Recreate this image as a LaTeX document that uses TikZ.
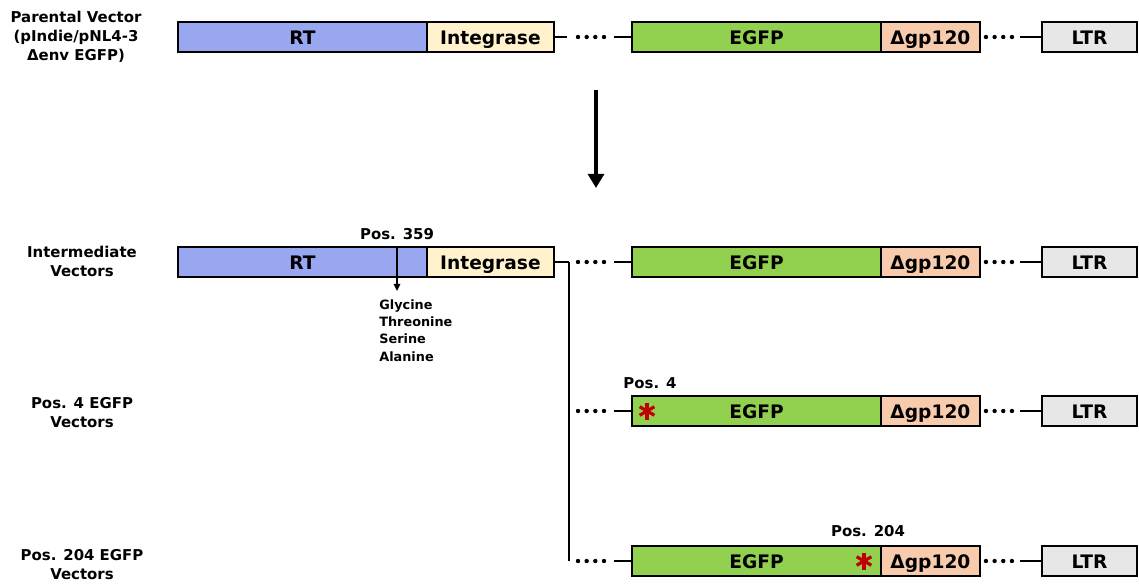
\documentclass[tikz,border=0pt]{standalone}
\usepackage{fontspec}
\setmainfont{DejaVu Sans}
\usetikzlibrary{positioning,arrows.meta,calc}

\definecolor{rtblue}{HTML}{99A6F0}
\definecolor{intyellow}{HTML}{FFF2CC}
\definecolor{egfpgreen}{HTML}{92D050}
\definecolor{gppeach}{HTML}{F8CBAD}
\definecolor{ltrgrey}{HTML}{E7E7E7}
\definecolor{mutred}{HTML}{C00000}

\tikzset{
  seg/.style={draw, line width=0.8pt, minimum height=0.6cm, outer sep=0pt, inner sep=0pt,
    text height=1.75ex, text depth=0.25ex,
    font=\fontsize{10.6}{12}\selectfont\bfseries},
  rtseg/.style={seg, fill=rtblue, minimum width=4.98cm},
  intseg/.style={seg, fill=intyellow, minimum width=2.54cm},
  egfpseg/.style={seg, fill=egfpgreen, minimum width=4.98cm},
  gpseg/.style={seg, fill=gppeach, minimum width=1.98cm},
  ltrseg/.style={seg, fill=ltrgrey, minimum width=1.9cm},
  link/.style={line width=1.4pt},
  dots/.style={line width=2.5pt, line cap=round, dash pattern=on 0pt off 4.93pt},
  rowlabel/.style={align=center, font=\fontsize{8.5}{10.8}\selectfont\bfseries},
  poslabel/.style={inner sep=1pt, font=\fontsize{8.5}{10}\selectfont\bfseries},
  mut/.style={minimum size=0.34cm, inner sep=0pt,
    path picture={
      \foreach \a in {90,30,150}
        \draw[mutred, line width=1.8pt]
          ($(path picture bounding box.center)+(\a:0.17cm)$) --
          ($(path picture bounding box.center)+(\a+180:0.17cm)$);
    }}
}

\begin{document}
\begin{tikzpicture}[x=0.02cm,y=-0.02cm]
\useasboundingbox (0,0) rectangle (1139,585);

% row labels
\node[rowlabel] (lab1) at (76,37) {Parental Vector\\(pIndie/pNL4-3\\Δenv EGFP)};
\node[rowlabel] (lab2) at (82,261) {Intermediate\\Vectors};
\node[rowlabel] (lab3) at (82,413) {Pos. 4 EGFP\\Vectors};
\node[rowlabel] (lab4) at (82,565) {Pos. 204 EGFP\\Vectors};

% RT / Integrase
\node[rtseg, anchor=west] (rt1) at (178,37) {RT};
\node[intseg, right=0pt of rt1] (int1) {Integrase};
\node[rtseg, anchor=west] (rt2) at (178,262) {RT};
\node[intseg, right=0pt of rt2] (int2) {Integrase};

% EGFP / gp120 / LTR
\foreach \r/\y in {1/37,2/262,3/411,4/561}{
  \node[egfpseg, anchor=west] (egfp\r) at (632,\y) {EGFP};
  \node[gpseg, right=0pt of egfp\r] (gp\r) {Δgp120};
  \node[ltrseg, anchor=west] (ltr\r) at (1042,\y) {LTR};
  \draw[dots] ($(egfp\r.west)+(-54,0)$) -- ++(27,0);
  \draw[link] (egfp\r.west) -- ++(-18,0);
  \draw[dots] ($(gp\r.east)+(6,0)$) -- ++(27,0);
  \draw[link] (ltr\r.west) -- ++(-22,0);
}

% links from integrase
\draw[link] (int1.east) -- ++(13,0);
\draw[link] (int2.east) -- ++(15,0) coordinate (split);
\draw[link] (split) -- (split |- egfp4.west);

% big arrow
\coordinate (arrtop) at (596,90);
\coordinate (arrbot) at (596,188);
\draw[line width=2.3pt, -{Triangle[width=9pt,length=8pt]}] (arrtop) -- (arrbot);

% position 359
\coordinate (p359) at ($(rt2.north west)+(219,0)$);
\node[poslabel, above=3pt of p359] (pos359) {Pos. 359};
\draw[line width=1.1pt, -{Triangle[width=3.6pt,length=4pt]}] (p359) -- ++(0,44) coordinate (p359end);
\node[anchor=north west, align=left, inner sep=0pt, font=\fontsize{7.3}{9.9}\selectfont\bfseries]
  (aa) at ($(p359end)+(-18,8)$) {Glycine\\Threonine\\Serine\\Alanine};

% mutations
\node[mut] (star4) at (647,411) {};
\node[poslabel] (pos4) at (650,383) {Pos. 4};
\node[mut] (star204) at (864,561) {};
\node[poslabel] (pos204) at (868,531) {Pos. 204};

\end{tikzpicture}
\end{document}
